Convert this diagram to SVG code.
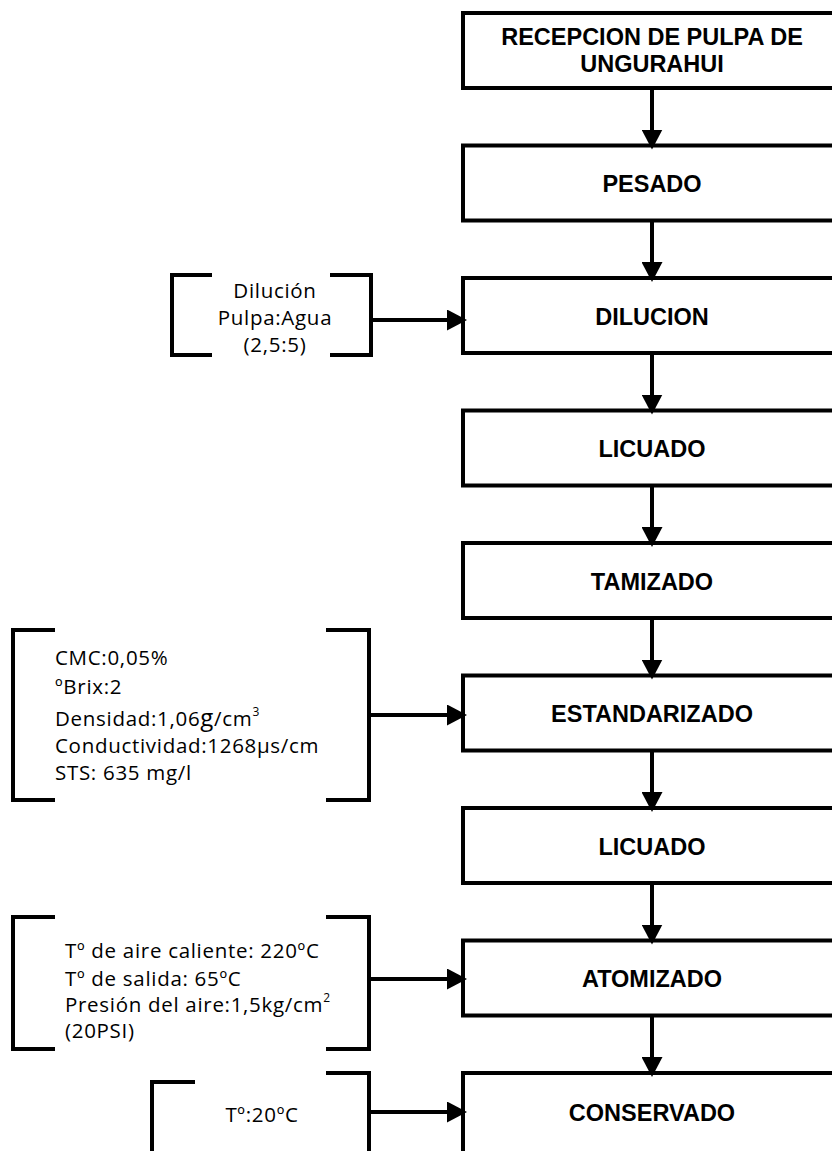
<svg xmlns="http://www.w3.org/2000/svg" width="832" height="1151" viewBox="0 0 832 1151">
<defs>
<marker id="ah" markerUnits="userSpaceOnUse" markerWidth="20" markerHeight="21" viewBox="0 0 20 21" refX="16" refY="10.5" orient="auto">
<path d="M0,0 L20,10.5 L0,21 Z" fill="#000"/>
</marker>
<style>
.box{fill:#fff;stroke:#000;stroke-width:4}
.bt{font-family:"Liberation Sans",Arial,sans-serif;font-weight:bold;font-size:23.5px;text-anchor:middle;fill:#000}
.br{fill:none;stroke:#000;stroke-width:4}
.lt{font-family:"Open Sans","Noto Sans",sans-serif;font-size:20.5px;letter-spacing:0.7px;fill:#000}
.c{stroke:#000;stroke-width:4;fill:none;marker-end:url(#ah)}
</style>
</defs>
<rect width="832" height="1151" fill="#fff"/>
<g id="n1"><rect class="box" x="463" y="13" width="400" height="75"/><text class="bt" x="652" y="45">RECEPCION DE PULPA DE</text><text class="bt" x="652" y="72">UNGURAHUI</text></g>
<g id="n2"><rect class="box" x="463" y="145.5" width="400" height="75"/><text class="bt" x="652" y="192">PESADO</text></g>
<g id="n3"><rect class="box" x="463" y="278" width="400" height="75"/><text class="bt" x="652" y="324.5">DILUCION</text></g>
<g id="n4"><rect class="box" x="463" y="410.5" width="400" height="75"/><text class="bt" x="652" y="457">LICUADO</text></g>
<g id="n5"><rect class="box" x="463" y="543" width="400" height="75"/><text class="bt" x="652" y="589.5">TAMIZADO</text></g>
<g id="n6"><rect class="box" x="463" y="675.5" width="400" height="75"/><text class="bt" x="652" y="722">ESTANDARIZADO</text></g>
<g id="n7"><rect class="box" x="463" y="808" width="400" height="75"/><text class="bt" x="652" y="854.5">LICUADO</text></g>
<g id="n8"><rect class="box" x="463" y="940.5" width="400" height="75"/><text class="bt" x="652" y="987">ATOMIZADO</text></g>
<g id="n9"><rect class="box" x="463" y="1073" width="400" height="120"/><text class="bt" x="652" y="1121">CONSERVADO</text></g>

<g id="s1">
<path class="br" d="M212,275 H172 V355 H212"/>
<path class="br" d="M330,275 H371 V355 H330"/>
<text class="lt" x="275" y="298" text-anchor="middle">Dilución</text>
<text class="lt" x="275" y="325" text-anchor="middle">Pulpa:Agua</text>
<text class="lt" x="275" y="352" text-anchor="middle">(2,5:5)</text>
</g>
<g id="s2">
<path class="br" d="M55,630 H13 V800 H55"/>
<path class="br" d="M326,630 H369 V800 H326"/>
<text class="lt" x="55" y="665">CMC:0,05%</text>
<text class="lt" x="55" y="694">ºBrix:2</text>
<text class="lt" x="55" y="726">Densidad:1,06<tspan font-size="24">g</tspan>/cm<tspan font-size="12" dy="-10">3</tspan></text>
<text class="lt" x="55" y="753">Conductividad:1268µs/cm</text>
<text class="lt" x="55" y="780">STS: 635 mg/l</text>
</g>
<g id="s3">
<path class="br" d="M55,917 H13 V1049 H55"/>
<path class="br" d="M326,917 H369 V1049 H326"/>
<text class="lt" x="65" y="958">Tº de aire caliente: 220ºC</text>
<text class="lt" x="65" y="986">Tº de salida: 65ºC</text>
<text class="lt" x="65" y="1012">Presión del aire:1,5kg/cm<tspan font-size="12" dy="-10">2</tspan></text>
<text class="lt" x="65" y="1038">(20PSI)</text>
</g>
<g id="s4">
<path class="br" d="M195,1082 H152 V1160"/>
<path class="br" d="M326,1073 H369 V1160"/>
<text class="lt" x="262" y="1122" text-anchor="middle">Tº:20ºC</text>
</g>

<g id="connectors">
<line class="c" x1="652" y1="88" x2="652" y2="145.5"/>
<line class="c" x1="652" y1="220.5" x2="652" y2="278"/>
<line class="c" x1="652" y1="353" x2="652" y2="410.5"/>
<line class="c" x1="652" y1="485.5" x2="652" y2="543"/>
<line class="c" x1="652" y1="618" x2="652" y2="675.5"/>
<line class="c" x1="652" y1="750.5" x2="652" y2="808"/>
<line class="c" x1="652" y1="883" x2="652" y2="940.5"/>
<line class="c" x1="652" y1="1015.5" x2="652" y2="1073"/>
<line class="c" x1="371" y1="320" x2="463" y2="320"/>
<line class="c" x1="369" y1="715" x2="463" y2="715"/>
<line class="c" x1="369" y1="979" x2="463" y2="979"/>
<line class="c" x1="369" y1="1112" x2="463" y2="1112"/>
</g>
</svg>
